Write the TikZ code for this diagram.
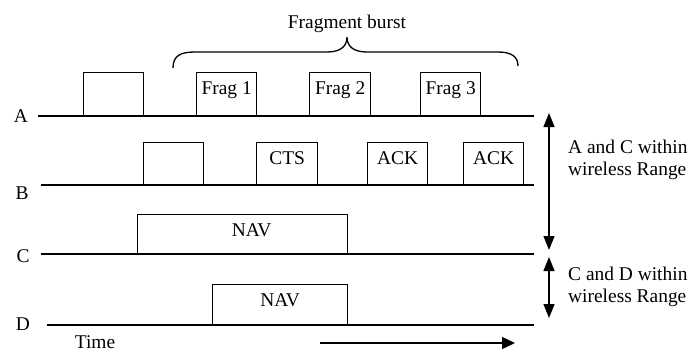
\documentclass[tikz,border=0pt]{standalone}
\usepackage{fontspec}
\setmainfont{Liberation Serif}
\usetikzlibrary{arrows.meta}
\tikzset{
  every node/.style={font=\fontsize{19.5}{22}\selectfont, inner sep=0pt},
  sig/.style={line width=1.3bp},
  slot/.style={draw, line width=1.3bp, anchor=south west, inner sep=0pt,
    text height=22bp, text depth=#1},
  rng/.style={line width=1.3bp, arrows={Triangle[length=14bp,width=11bp]-Triangle[length=14bp,width=11bp]}},
  timearrow/.style={line width=1.3bp, arrows={-Triangle[length=13bp,width=12bp]}},
  note/.style={align=left, anchor=west}
}
\begin{document}
\begin{tikzpicture}[x=1bp,y=-1bp]
\useasboundingbox (0,0) rectangle (692,352);

% row labels
\node (A) at (21,116) {A};
\node (B) at (22,193) {B};
\node (C) at (23,256) {C};
\node (D) at (23,324) {D};
\node (time) at (95,342) {Time};

% signal lines
\coordinate (A0) at (38,116);  \coordinate (A1) at (534,116);
\coordinate (B0) at (41,185);  \coordinate (B1) at (534,185);
\coordinate (C0) at (41,254);  \coordinate (C1) at (534,254);
\coordinate (D0) at (47,325);  \coordinate (D1) at (534,325);
\draw[sig] (A0) -- (A1);
\draw[sig] (B0) -- (B1);
\draw[sig] (C0) -- (C1);
\draw[sig] (D0) -- (D1);

% A frames
\node[slot=21bp, minimum width=60bp] (a0) at (83,116) {};
\node[slot=21bp, minimum width=60bp] (f1) at (196,116) {Frag 1};
\node[slot=21bp, minimum width=61bp] (f2) at (309,116) {Frag 2};
\node[slot=21bp, minimum width=60bp] (f3) at (420,116) {Frag 3};

% B frames
\node[slot=20bp, minimum width=60bp] (b0) at (143,185) {};
\node[slot=20bp, minimum width=61bp] (cts) at (256,185) {CTS};
\node[slot=20bp, minimum width=60bp] (ack1) at (367,185) {ACK};
\node[slot=20bp, minimum width=60bp] (ack2) at (463,185) {ACK};

% NAV
\node[slot=17bp, minimum width=210bp] (navc) at (137,254) {\hspace*{18bp}NAV};
\node[slot=18bp, minimum width=135bp] (navd) at (212,325) {NAV};

% brace
\draw[sig] (173,68) .. controls (173,56) and (180,52) .. (195,52)
  -- (327,52) .. controls (341,52) and (347,46) .. (347,37)
  .. controls (347,46) and (353,52) .. (367,52)
  -- (498,52) .. controls (512,52) and (518,57) .. (518,66);
\node[anchor=base] (burst) at (347,28) {Fragment burst};

% range arrows
\coordinate (r1t) at (549,113); \coordinate (r1b) at (549,250);
\coordinate (r2t) at (549,257); \coordinate (r2b) at (549,318);
\draw[rng] (r1t) -- (r1b);
\draw[rng] (r2t) -- (r2b);
\node[note] (acnote) at (568,160) {A and C within\\wireless Range};
\node[note] (cdnote) at (568,287) {C and D within\\wireless Range};

% time arrow
\coordinate (t0) at (320,343); \coordinate (t1) at (515,343);
\draw[timearrow] (t0) -- (t1);
\end{tikzpicture}
\end{document}
